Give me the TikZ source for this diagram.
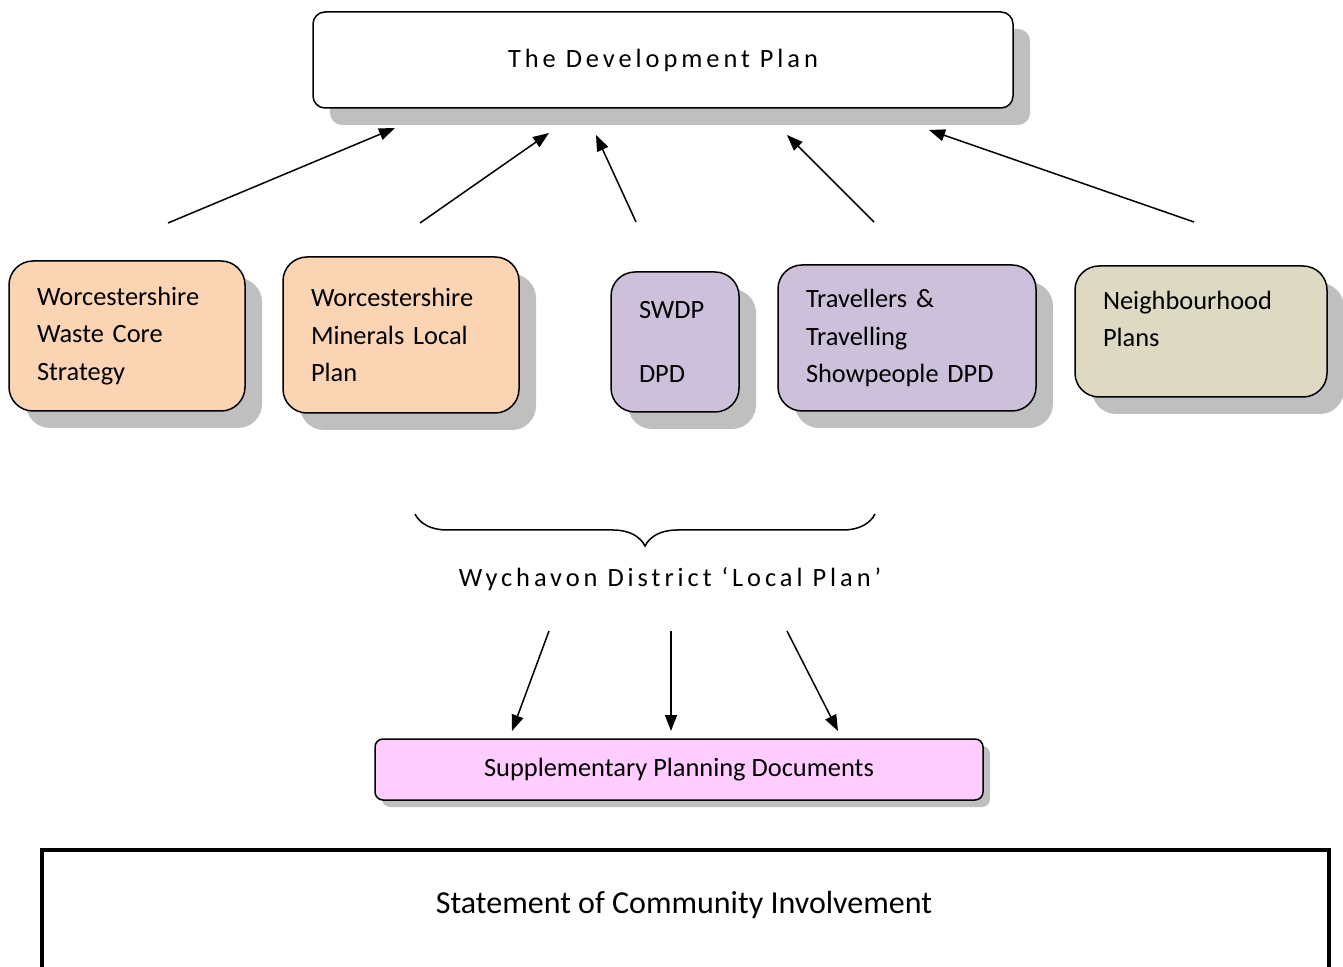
\documentclass[tikz,border=0pt]{standalone}
\usepackage{fontspec}
\setmainfont{Carlito}
\newfontfamily\spaced[LetterSpace=15]{Carlito}
\usetikzlibrary{arrows.meta,shadows,decorations.pathreplacing}
\definecolor{peach}{HTML}{FBD4B4}
\definecolor{lavender}{HTML}{CCC0DA}
\definecolor{khaki}{HTML}{DDD9C3}
\definecolor{pinkbox}{HTML}{FFCCFF}

\begin{document}
\begin{tikzpicture}[x=0.5pt,y=-0.5pt,
    font=\fontsize{13.2pt}{18.75pt}\selectfont,
    boxshadow/.style={drop shadow={shadow xshift=8.5pt,shadow yshift=-8.5pt,fill=black!25,opacity=1}},
    planbox/.style={draw,line width=0.75pt,rounded corners=12pt,boxshadow,align=left,inner xsep=14pt,inner ysep=0pt},
    link/.style={-{Triangle[length=8pt,width=6pt]},line width=0.75pt}]
  \useasboundingbox (0,0) rectangle (1343,967);

  \node[draw,fill=white,line width=0.75pt,rounded corners=6pt,minimum width=350pt,minimum height=48pt,boxshadow] (devplan) at (663,60) {\spaced The Development Plan};

  \node[planbox,fill=peach,text width=90pt,minimum height=75pt] (waste) at (127,336) {Worcestershire\\Waste Core\\Strategy};
  \node[planbox,fill=peach,text width=90pt,minimum height=78pt] (minerals) at (401,335) {Worcestershire\\Minerals Local\\Plan};
  \node[planbox,fill=lavender,text width=36pt,minimum height=70pt] (swdp) at (675,342) {SWDP\\[13pt]DPD};
  \node[planbox,fill=lavender,text width=101pt,minimum height=73pt] (travellers) at (907,338) {Travellers \&\\Travelling\\Showpeople DPD};
  \node[planbox,fill=khaki,text width=98pt,minimum height=65.5pt] (neighbourhood) at (1201,331.5) {Neighbourhood\\Plans\\[-6.25pt]\mbox{}};

  % arrows up to the development plan
  \coordinate (waste from) at (168,223);     \coordinate (waste to) at (395,128);
  \coordinate (minerals from) at (420,223);  \coordinate (minerals to) at (549,133);
  \coordinate (swdp from) at (636,222);      \coordinate (swdp to) at (596,135);
  \coordinate (travellers from) at (874,222); \coordinate (travellers to) at (787,135);
  \coordinate (neighbourhood from) at (1194,222); \coordinate (neighbourhood to) at (929,130);
  \draw[link] (waste from) -- (waste to);
  \draw[link] (minerals from) -- (minerals to);
  \draw[link] (swdp from) -- (swdp to);
  \draw[link] (travellers from) -- (travellers to);
  \draw[link] (neighbourhood from) -- (neighbourhood to);

  \coordinate (brace left) at (415,514);
  \coordinate (brace right) at (875,514);
  \draw[line width=0.75pt,decorate,decoration={brace,mirror,amplitude=16pt}] (brace left) -- (brace right);
  \node (localplan) at (670,579) {\spaced Wychavon District ‘Local Plan’};

  \node[draw,line width=0.75pt,rounded corners=4pt,fill=pinkbox,minimum width=304pt,minimum height=30.5pt,
    drop shadow={shadow xshift=3.5pt,shadow yshift=-3.5pt,fill=black!25,opacity=1}] (spd) at (679,769.5) {Supplementary Planning Documents};

  \coordinate (spd left from) at (549,631);  \coordinate (spd left to) at (512,731);
  \coordinate (spd mid from) at (671,631);   \coordinate (spd mid to) at (671,731);
  \coordinate (spd right from) at (787,631); \coordinate (spd right to) at (838,731);
  \draw[link] (spd left from) -- (spd left to);
  \draw[link] (spd mid from) -- (spd mid to);
  \draw[link] (spd right from) -- (spd right to);

  \node[draw,line width=2pt,minimum width=643.5pt,minimum height=80pt,anchor=north] (sci) at (685.5,848) {};
  \node[font=\fontsize{16pt}{20pt}\selectfont] (sci text) at (684,905) {Statement of Community Involvement};
\end{tikzpicture}
\end{document}
